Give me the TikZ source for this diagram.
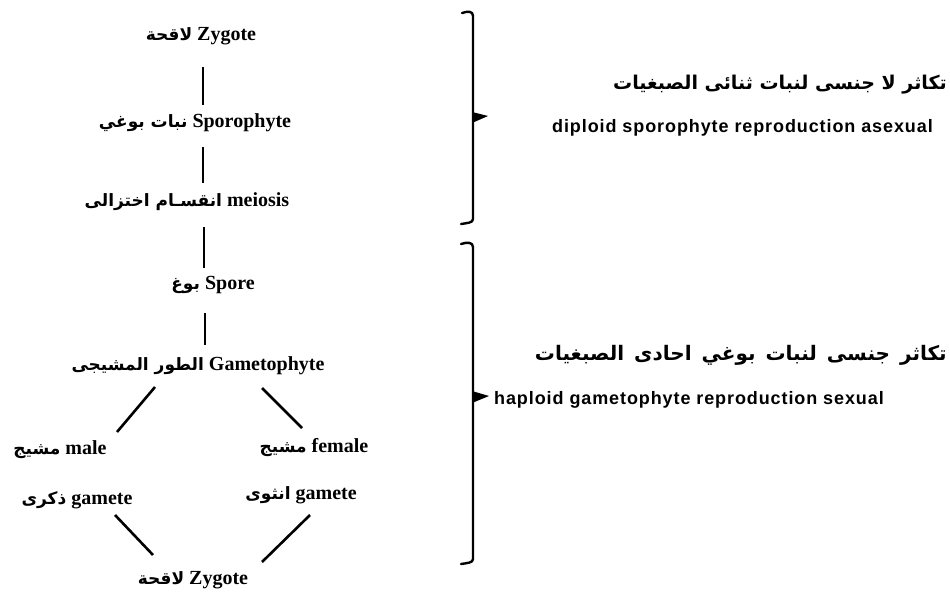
\documentclass[tikz,border=0pt]{standalone}
\usepackage{fontspec}
\setmainfont{Liberation Serif}
\newfontfamily\arabicfont[Script=Arabic]{DejaVu Sans}
\newfontfamily\widesans[LetterSpace=5]{Liberation Sans}
\TeXXeTstate=1
\newcommand\AR[1]{{\arabicfont\bfseries\fontsize{17}{19}\selectfont\beginR #1\endR}}
\newcommand\ARbig[1]{{\arabicfont\bfseries\fontsize{19}{22}\selectfont\beginR #1\endR}}
\newcommand\ARbigger[1]{{\arabicfont\bfseries\fontsize{20}{23}\selectfont\spaceskip=10pt\beginR #1\endR}}
\begin{document}
\begin{tikzpicture}[x=1pt,y=-1pt,
  lbl/.style={inner sep=0pt, font=\bfseries\fontsize{20}{23}\selectfont},
  rlbl/.style={inner sep=0pt, anchor=west, font=\widesans\bfseries\fontsize{18}{20}\selectfont},
  link/.style={line width=2.6pt},
  brace/.style={line width=2.4pt, line cap=round, line join=round}]
\useasboundingbox (0,0) rectangle (950,597);
% labels of the cycle
\node[lbl] (z1) at (201,36) {\AR{لاقحة} Zygote};
\node[lbl] (spo) at (195,123) {\AR{نبات بوغي} Sporophyte};
\node[lbl] (mei) at (187,202) {\AR{انقسـام اختزالى} meiosis};
\node[lbl] (spr) at (213,285) {\AR{بوغ} Spore};
\node[lbl] (gam) at (198,366) {\AR{الطور المشيجى} Gametophyte};
\node[lbl] (male) at (60,450) {\AR{مشيج} male};
\node[lbl] (mgam) at (77,500) {\AR{ذكرى} gamete};
\node[lbl] (fem) at (314,448) {\AR{مشيج} female};
\node[lbl] (fgam) at (301,495) {\AR{انثوى} gamete};
\node[lbl] (z2) at (193,580) {\AR{لاقحة} Zygote};
% connector ends
\coordinate (a1) at (203,67);  \coordinate (b1) at (203,105);
\coordinate (a2) at (203,147); \coordinate (b2) at (203,183);
\coordinate (a3) at (204,227); \coordinate (b3) at (204,268);
\coordinate (a4) at (205,313); \coordinate (b4) at (205,345);
\coordinate (l1a) at (155,387); \coordinate (l1b) at (117,432);
\coordinate (r1a) at (262,388); \coordinate (r1b) at (302,428);
\coordinate (l2a) at (115,515); \coordinate (l2b) at (153,555);
\coordinate (r2a) at (310,515); \coordinate (r2b) at (262,562);
\draw[link] (a1) -- (b1);
\draw[link] (a2) -- (b2);
\draw[link] (a3) -- (b3);
\draw[link] (a4) -- (b4);
\draw[link] (l1a) -- (l1b);
\draw[link] (r1a) -- (r1b);
\draw[link] (l2a) -- (l2b);
\draw[link] (r2a) -- (r2b);
% brackets
\draw[brace] (462,13) .. controls (468,11) and (473,11) .. (473,16) -- (473,219) .. controls (473,223) and (467,223) .. (461,224);
\fill (472,112) -- (488,116) -- (472,123) -- cycle;
\draw[brace] (461,244) .. controls (467,242) and (473,242) .. (473,247) -- (473,559) .. controls (473,563) and (467,563) .. (461,564);
\fill (472,391) -- (489,396) -- (472,403) -- cycle;
% right-hand texts
\node[inner sep=0pt, anchor=east] (t1) at (947,85) {\ARbig{تكاثر لا جنسى لنبات ثنائى الصبغيات}};
\node[rlbl] (e1) at (552,128) {diploid sporophyte reproduction asexual};
\node[inner sep=0pt, anchor=east] (t2) at (947,355) {\ARbigger{تكاثر جنسى لنبات بوغي احادى الصبغيات}};
\node[rlbl] (e2) at (494,400) {haploid gametophyte reproduction sexual};
\end{tikzpicture}
\end{document}
